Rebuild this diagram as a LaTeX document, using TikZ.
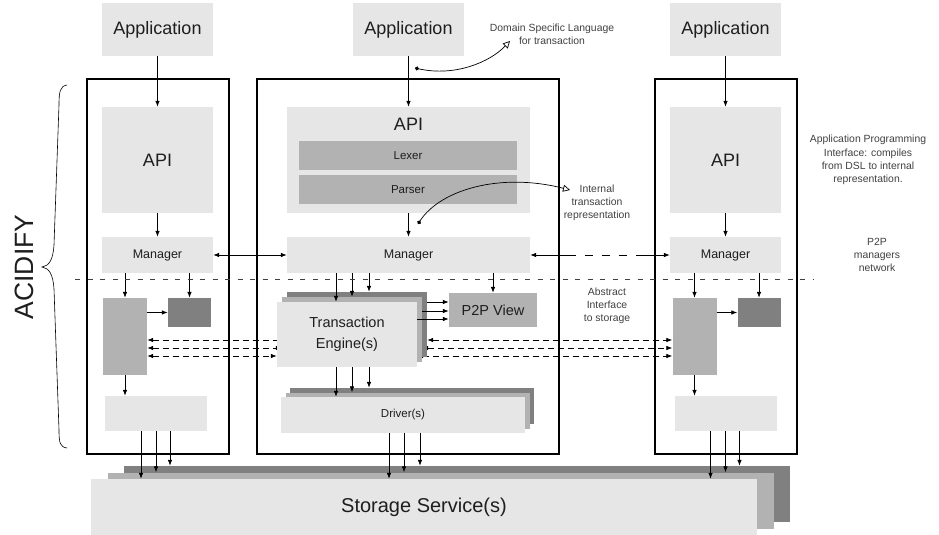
\documentclass[tikz,border=0pt]{standalone}
\usepackage{fontspec}
\setmainfont{Liberation Sans}
\usetikzlibrary{arrows.meta,calc}
\definecolor{boxlite}{RGB}{230,230,230}
\definecolor{boxmid}{RGB}{178,178,178}
\definecolor{boxdark}{RGB}{128,128,128}
\definecolor{ink}{RGB}{30,30,30}
\pgfdeclarelayer{bg}
\pgfsetlayers{bg,main}

\begin{document}
\begin{tikzpicture}[x=1pt,y=-1pt,
    lite/.style={fill=boxlite,inner sep=0pt,text=ink},
    mid/.style={fill=boxmid,inner sep=0pt,text=ink},
    dark/.style={fill=boxdark,inner sep=0pt},
    frame/.style={draw=black,line width=1.3pt,inner sep=0pt},
    sz/.style 2 args={minimum width=#1,minimum height=#2},
    fbig/.style={font=\fontsize{18}{21}\selectfont},
    fmed/.style={font=\fontsize{12.5}{15}\selectfont},
    fsm/.style={font=\fontsize{11.5}{14}\selectfont},
    fte/.style={font=\fontsize{14.5}{21}\selectfont},
    arr/.style={draw=black,line width=0.7pt,-{Latex[length=6pt,width=4.5pt]}},
    biarr/.style={arr,{Latex[length=6pt,width=4.5pt]}-{Latex[length=6pt,width=4.5pt]}},
    darr/.style={biarr,dash pattern=on 6pt off 4pt},
    note/.style={draw=black,line width=0.7pt,{Circle[length=4pt]}-{Triangle[open,length=7pt,width=7pt]}},
    notetxt/.style={font=\fontsize{10.4}{13.2}\selectfont,text=ink!85,align=center,inner sep=0pt}]
  \useasboundingbox (0,0) rectangle (939,535);

  % the three nodes
  \node[frame,sz={142pt}{375pt}] (boxL) at (158,266.5) {};
  \node[frame,sz={302pt}{375pt}] (boxM) at (408,266.5) {};
  \node[frame,sz={142pt}{375pt}] (boxR) at (726,266.5) {};

  \foreach \n/\x in {appL/157.5,appM/408.5,appR/725.5}
    \node[lite,sz={111pt}{53pt},fbig] (\n) at (\x,29.5) {Application};

  % api layer
  \node[lite,sz={111pt}{106pt},fbig] (apiL) at (157.5,160) {API};
  \node[lite,sz={111pt}{106pt},fbig] (apiR) at (725.5,160) {API};
  \node[lite,sz={243pt}{106pt},
    label={[fbig,text=ink,anchor=north,inner sep=0pt,yshift=-11pt]north:API}] (apiM) at (408.5,160) {};
  \node[mid,sz={218pt}{29pt},fsm] (lexer) at (408,155.5) {Lexer};
  \node[mid,sz={218pt}{29pt},fsm] (parser) at (408,189.5) {Parser};

  \foreach \n/\x/\w in {mgrL/157.5/111,mgrM/408.5/243,mgrR/725.5/111}
    \node[lite,sz={\w pt}{36pt},fmed] (\n) at (\x,255) {Manager};

  % blocks below the managers, side nodes
  \foreach \s/\dx in {L/0,R/569.5}{
    \node[mid,sz={44pt}{77pt}] (tall\s) at (125+\dx,336.5) {};
    \node[dark,sz={43pt}{29pt}] (dark\s) at (189.5+\dx,312.5) {};
    \node[lite,sz={102pt}{35pt}] (low\s) at (156+\dx,413.5) {};
  }

  % stacked engines and drivers
  \node[dark,sz={140pt}{65pt}] (teB) at (357,324.5) {};
  \node[mid,sz={140pt}{65pt}] (teM) at (352,329.5) {};
  \node[lite,sz={140pt}{65pt},fte,align=center] (teF) at (347,334.5) {Transaction\\Engine(s)};
  \node[mid,sz={88pt}{34pt},fte] (p2p) at (493,310) {P2P View};

  \node[dark,sz={244pt}{36pt}] (drvB) at (412,406) {};
  \node[mid,sz={244pt}{36pt}] (drvM) at (407.5,410.5) {};
  \node[lite,sz={244pt}{36pt},fsm] (drvF) at (403,415) {Driver(s)};

  % storage
  \node[dark,sz={666pt}{56pt}] (stoB) at (457,494) {};
  \node[mid,sz={666pt}{56pt}] (stoM) at (440.5,500.5) {};
  \node[lite,sz={666pt}{56pt},font=\fontsize{20}{24}\selectfont] (stoF) at (424,507) {Storage Service(s)};

  % vertical flow
  \foreach \a/\b in {appL/apiL,appM/apiM,appR/apiR,apiL/mgrL,apiM/mgrM,apiR/mgrR}
    \draw[arr] (\a) -- (\b);

  \foreach \s in {L,R}{
    \draw[arr] (mgr\s.south -| tall\s) -- (tall\s);
    \draw[arr] (mgr\s.south -| dark\s) -- (dark\s);
    \draw[arr] (tall\s.east |- dark\s) -- (dark\s);
    \draw[arr] (tall\s) -- (tall\s |- low\s.north);
    \foreach \o/\t in {-15/stoF,0/stoM,14/stoB}{
      \coordinate (sp) at ($(low\s.south)+(\o,0)$);
      \draw[arr] (sp) -- (sp |- \t.north);
    }
  }

  \foreach \o/\t/\d in {-11/teF/drvF,5/teM/drvM,22/teB/drvB}{
    \coordinate (tp) at ($(teF.north)+(\o,0)$);
    \draw[arr] (tp |- mgrM.south) -- (tp |- \t.north);
    \draw[arr] (tp |- teF.south) -- (tp |- \d.north);
  }
  \foreach \o/\t in {-8/teB,1/teM,9/teF}{
    \coordinate (rp) at ($(p2p.west)+(0,\o)$);
    \draw[arr] (rp -| \t.east) -- (rp);
  }
  \draw[arr] (mgrM.south -| p2p) -- (p2p);
  \foreach \o/\t in {-14/stoF,1/stoM,17/stoB}{
    \coordinate (dp) at ($(drvF.south)+(\o,0)$);
    \draw[arr] (dp) -- (dp |- \t.north);
  }

  % managers network
  \draw[biarr] (mgrL) -- (mgrM);
  \draw[biarr,dash pattern=on 40pt off 9pt on 8pt off 9pt on 8pt off 9pt on 8pt off 9pt on 60pt] (mgrM) -- (mgrR);

  % engines talk to the side blocks
  \begin{pgfonlayer}{bg}
    \foreach \o/\t in {3.5/teB,11.5/teM,19.5/teF}{
      \coordinate (rw) at ($(tallL.center)+(0,\o)$);
      \draw[darr] (rw -| tallL.east) -- (rw -| \t.west);
      \draw[darr] (rw -| \t.east) -- (rw -| tallR.west);
    }
  \end{pgfonlayer}

  \draw[black!75,line width=0.7pt,dash pattern=on 5pt off 7.5pt] (75,279) -- (813,279);

  % brace and title
  \draw[line width=0.6pt] (67,85) .. controls (60,86) and (59,92) .. (59,105) -- (54,245)
    .. controls (53,260) and (49,266) .. (42,267) .. controls (49,268) and (53,274) .. (54,289)
    -- (59,430) .. controls (59,443) and (60,447) .. (67,448);
  \node[rotate=90,font=\fontsize{26.5}{30}\selectfont,text=ink] (acidify) at (24,267) {ACIDIFY};

  % notes
  \node[notetxt] (dslTxt) at (552,34.5) {Domain Specific Language\\for transaction};
  \coordinate (dslA) at (415,68);
  \coordinate (dslB) at (510,41);
  \draw[note] (dslA) .. controls (455,77) and (490,62) .. (dslB);

  \node[notetxt] (intTxt) at (597,203) {Internal\\transaction\\representation};
  \coordinate (intA) at (418,224);
  \coordinate (intB) at (570,190);
  \draw[note] (intA) .. controls (440,190) and (500,172) .. (intB);

  \node[notetxt] (apiTxt) at (868,160) {Application Programming\\Interface: compiles\\from DSL to internal\\representation.};
  \node[notetxt] (netTxt) at (877,255) {P2P\\managers\\network};
  \node[notetxt] (absTxt) at (607,306) {Abstract\\Interface\\to storage};
\end{tikzpicture}
\end{document}
